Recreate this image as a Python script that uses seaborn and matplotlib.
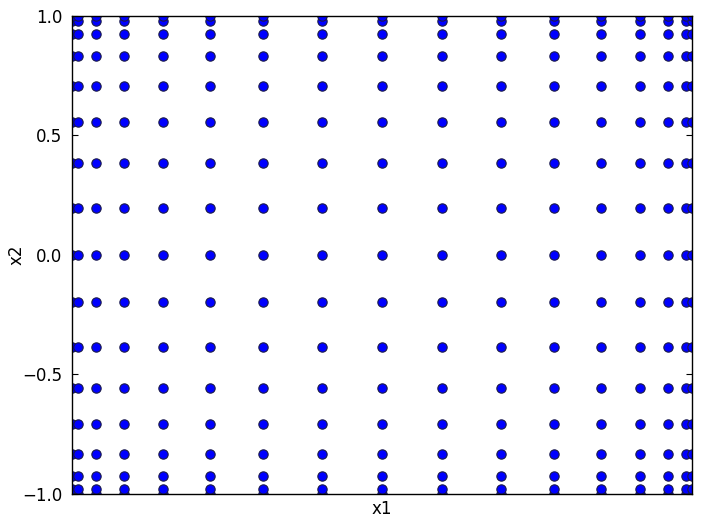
import numpy as np
import pandas as pd
import matplotlib
matplotlib.use('Agg')
import matplotlib.pyplot as plt
import seaborn as sns

# grid nodes (same on both axes)
nodes = [-1.0, -0.981, -0.924, -0.831, -0.707, -0.556, -0.383, -0.195, 0.0,
         0.195, 0.383, 0.556, 0.707, 0.831, 0.924, 0.981, 1.0]
yticks = [-1.0, -0.5, 0.0, 0.5, 1.0]
ytick_labels = ['\u22121.0', '\u22120.5', '0.0', '0.5', '1.0']

xx, yy = np.meshgrid(nodes, nodes)
df = pd.DataFrame({'x1': xx.ravel(), 'x2': yy.ravel()})

sns.set_style('white')
plt.rcParams['text.color'] = 'black'
plt.rcParams['axes.labelcolor'] = 'black'
plt.rcParams['ytick.color'] = 'black'
plt.rcParams['xtick.color'] = 'black'

fig = plt.figure(figsize=(7.02, 5.24), dpi=100)
ax = fig.add_axes([0.1026, 0.0573, 0.8832, 0.9122])

sns.scatterplot(data=df, x='x1', y='x2', ax=ax, color='#0000ff', s=45,
                edgecolor='#1a1a4a', linewidth=0.8, legend=False)

ax.set_xlim(-1, 1)
ax.set_ylim(-1, 1)
ax.set_xticks([])
ax.set_yticks(yticks)
ax.set_yticklabels(ytick_labels)
ax.tick_params(axis='y', direction='in', length=4, right=True, left=True,
               labelsize=12, pad=7, colors='black')
ax.set_xlabel('x1', fontsize=12, labelpad=4, color='black')
ax.set_ylabel('x2', fontsize=12, color='black')
ax.yaxis.set_label_coords(-0.075, 0.5)
for sp in ax.spines.values():
    sp.set_color('black')
    sp.set_linewidth(1.0)

fig.savefig('out.png', dpi=100)
